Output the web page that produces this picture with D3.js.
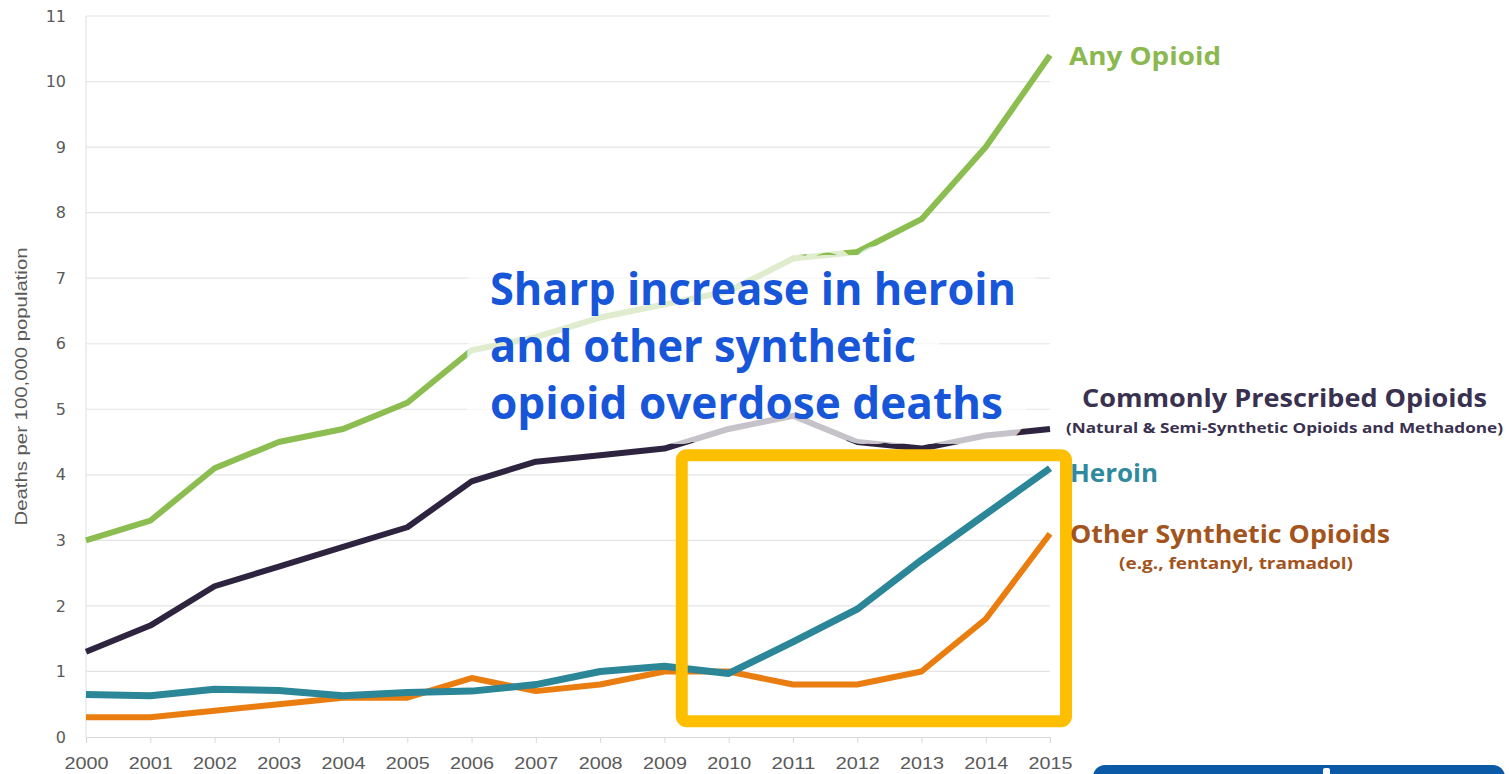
<!DOCTYPE html>
<html><head><meta charset="utf-8">
<script src="https://cdn.jsdelivr.net/npm/d3@7"></script>
<style>html,body{margin:0;padding:0;background:#fff;overflow:hidden}svg{display:block}</style>
</head><body>
<svg id="c" width="1509" height="774"></svg>
<script>
const years = [2000,2001,2002,2003,2004,2005,2006,2007,2008,2009,2010,2011,2012,2013,2014,2015];
const anyOpioid = [3.0,3.3,4.1,4.5,4.7,5.1,5.9,6.1,6.4,6.6,6.8,7.3,7.4,7.9,9.0,10.4];
const prescribed = [1.3,1.7,2.3,2.6,2.9,3.2,3.9,4.2,4.3,4.4,4.7,4.9,4.5,4.4,4.6,4.7];
const heroin = [0.65,0.63,0.73,0.71,0.63,0.68,0.7,0.8,1.0,1.08,0.97,1.45,1.95,2.7,3.4,4.1];
const otherSynthetic = [0.3,0.3,0.4,0.5,0.6,0.6,0.9,0.7,0.8,1.0,1.0,0.8,0.8,1.0,1.8,3.1];
const yTicks = [0,1,2,3,4,5,6,7,8,9,10,11];
const yTitle = "Deaths per 100,000 population";
const annotation = ["Sharp increase in heroin","and other synthetic","opioid overdose deaths"];

const svg = d3.select("#c");
const x = d3.scaleLinear().domain([2000,2015]).range([86,1050]);
const y = d3.scaleLinear().domain([0,11]).range([737,16]);

// gridlines
svg.append("g").selectAll("line").data(yTicks.filter(d=>d>0)).join("line")
  .attr("x1",x(2000)).attr("x2",x(2015)).attr("y1",d=>y(d)).attr("y2",d=>y(d))
  .attr("stroke","#e4e4e4").attr("stroke-width",1.2);
svg.append("line").attr("x1",x(2000)).attr("x2",x(2000)).attr("y1",y(11)).attr("y2",y(0))
  .attr("stroke","#e4e4e4").attr("stroke-width",1.2);

// y axis
const ya = svg.append("g").attr("transform",`translate(${x(2000)-20},0)`)
  .call(d3.axisLeft(y).tickValues(yTicks).tickSize(0).tickPadding(0));
ya.select(".domain").remove();
ya.selectAll("text").attr("fill","#5a5a5a").attr("font-size",16).attr("font-family","DejaVu Sans, sans-serif");

// x axis
const xa = svg.append("g").attr("transform",`translate(0,${y(0)})`)
  .call(d3.axisBottom(x).tickValues(years).tickFormat(d3.format("d")).tickSize(6).tickPadding(14));
xa.select(".domain").attr("stroke","#d9d9d9").attr("stroke-width",1.2);
xa.selectAll(".tick line").attr("stroke","#d9d9d9");
xa.selectAll("text").attr("fill","#5a5a5a").attr("font-size",17).attr("font-family","Liberation Sans, sans-serif")
  .attr("textLength",44).attr("lengthAdjust","spacingAndGlyphs");

// y title
svg.append("text").attr("transform",`translate(27,${(y(0)+y(11))/2+10}) rotate(-90)`)
  .attr("text-anchor","middle").attr("fill","#5a5a5a").attr("font-size",17)
  .attr("font-family","Liberation Sans, sans-serif")
  .attr("textLength",278).attr("lengthAdjust","spacingAndGlyphs").text(yTitle);

// lines
const line = d3.line().x((d,i)=>x(years[i])).y(d=>y(d));
const series = [
  {v:otherSynthetic, c:"#ea7d10", w:6},
  {v:heroin, c:"#2b8697", w:7},
  {v:prescribed, c:"#2f2440", w:6},
  {v:anyOpioid, c:"#8cbd50", w:6}
];
svg.append("g").selectAll("path").data(series).join("path")
  .attr("d",d=>line(d.v)).attr("fill","none").attr("stroke",d=>d.c)
  .attr("stroke-width",d=>d.w).attr("stroke-linejoin","round");

// annotation glow + text
const fontA = "Open Sans, sans-serif";
const lensA = [526,426,513];
const baseA = [305,362,419];
const glow = svg.append("g").attr("opacity",0.72);
glow.selectAll("text").data(annotation).join("text")
  .attr("x",490).attr("y",(d,i)=>baseA[i]).attr("font-family",fontA).attr("font-weight",700)
  .attr("font-size",44).attr("textLength",(d,i)=>lensA[i]).attr("lengthAdjust","spacingAndGlyphs")
  .attr("fill","#fff").attr("stroke","#fff").attr("stroke-width",50).attr("stroke-linejoin","round")
  .text(d=>d);
svg.append("g").selectAll("text").data(annotation).join("text")
  .attr("x",490).attr("y",(d,i)=>baseA[i]).attr("font-family",fontA).attr("font-weight",700)
  .attr("font-size",44).attr("textLength",(d,i)=>lensA[i]).attr("lengthAdjust","spacingAndGlyphs")
  .attr("fill","#1756d9").text(d=>d);

// yellow box
svg.append("rect").attr("x",x(2009.27)).attr("y",y(4.3)).attr("width",x(2015.25)-x(2009.27)).attr("height",y(0.24)-y(4.3))
  .attr("rx",5).attr("fill","none").attr("stroke","#fdbf00").attr("stroke-width",12);

// series labels
const labels = [
  {t:"Any Opioid", x:1069, y:65, s:25, len:152, c:"#8bb84f"},
  {t:"Commonly Prescribed Opioids", x:1082, y:407, s:25, len:405, c:"#3a3150"},
  {t:"(Natural & Semi-Synthetic Opioids and Methadone)", x:1066, y:433, s:15, len:437, c:"#3a3150"},
  {t:"Heroin", x:1070, y:482, s:25, len:88, c:"#2e8a9c"},
  {t:"Other Synthetic Opioids", x:1070, y:543, s:25, len:320, c:"#a3531c"},
  {t:"(e.g., fentanyl, tramadol)", x:1119, y:569, s:15.5, len:234, c:"#a3531c"}
];
svg.append("g").selectAll("text").data(labels).join("text")
  .attr("x",d=>d.x).attr("y",d=>d.y).attr("font-size",d=>d.s).attr("fill",d=>d.c)
  .attr("font-family","Open Sans, sans-serif").attr("font-weight",700)
  .attr("textLength",d=>d.len).attr("lengthAdjust","spacingAndGlyphs").text(d=>d.t);

// bottom-right blue bar (cropped)
svg.append("rect").attr("x",1093).attr("y",765).attr("width",412).attr("height",40).attr("rx",12).attr("fill","#0b5aa8");
svg.append("rect").attr("x",1323).attr("y",768).attr("width",7).attr("height",8).attr("rx",2).attr("fill","#fff");
</script>
</body></html>
